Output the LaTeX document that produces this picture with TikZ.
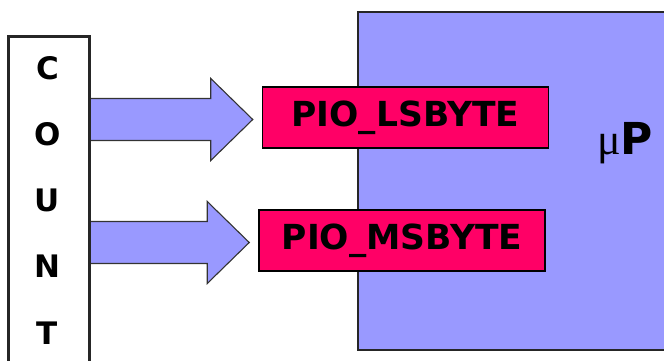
\documentclass[tikz,border=0pt]{standalone}
\usepackage{fontspec}
\setmainfont{DejaVu Sans}
\newfontfamily\greekfont{Liberation Serif}
\usetikzlibrary{calc, positioning}
\definecolor{cpuBlue}{RGB}{153,153,255}
\definecolor{pioRed}{RGB}{255,0,102}

\begin{document}
\begin{tikzpicture}[x=1pt,y=-1pt,
blk/.style = {% plain outlined blocks
    draw=black!85, line width=1.8pt, inner sep=0pt, anchor=north west,
             },
reg/.style = {% port registers
    draw=black, line width=1.5pt, fill=pioRed, inner sep=0pt,
    minimum width=286pt, minimum height=61pt,
    font=\bfseries\fontsize{34.5}{34.5}\selectfont,
             },
fat/.style = {% block arrows
    fill=cpuBlue, draw=black!80, line width=1.1pt, line join=miter,
             },
                        ]
\useasboundingbox (0,0) rectangle (664,361);
% processor
\node[blk, fill=cpuBlue, minimum width=330pt, minimum height=338pt]
      (cpu) at (357,11) {};
% port registers
\node[reg] (ls) at (405.5,117.5) {PIO\_LSBYTE};
\node[reg] (ms) at (402,240.5)   {PIO\_MSBYTE};
% counter
\node[blk, minimum width=80pt, minimum height=360pt] (count) at (8,36) {};
% arrows from counter to ports
\foreach \r in {ls, ms}{
    \coordinate (tip)  at ([xshift=-9pt,yshift=-2pt]\r.west);
    \coordinate (tail) at (count.east |- tip);
    \filldraw[fat] ([yshift=21pt]tail) -- ([xshift=-42pt,yshift=21pt]tip)
        -- ([xshift=-42pt,yshift=41pt]tip) -- (tip)
        -- ([xshift=-42pt,yshift=-41pt]tip)
        -- ([xshift=-42pt,yshift=-21pt]tip) -- ([yshift=-21pt]tail);
}
\draw[draw=black!85, line width=1.8pt] (count.north west) rectangle (count.south east);
% counter letters
\foreach \c [count=\i from 0] in {C,O,U,N,T}
    {\node[font=\bfseries\fontsize{31}{31}\selectfont] (c\i) at (47.5,68+66.2*\i) {\c};}
% processor label
\node[anchor=base west, inner sep=0pt] (mp) at (597,154)
     {\fontsize{44}{44}\selectfont{\greekfont μ}\textbf{P}};
\end{tikzpicture}
\end{document}
